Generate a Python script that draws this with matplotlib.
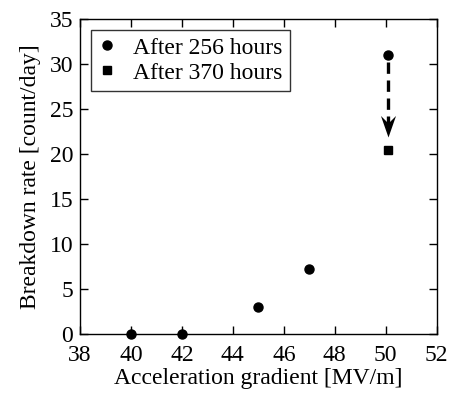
import matplotlib.pyplot as plt
from matplotlib.path import Path

plt.rcParams['font.family'] = ['Liberation Serif', 'DejaVu Serif']

# breakdown rate measured after 256 h
grad_256 = [40.0, 42.0, 45.0, 47.0, 50.1]
rate_256 = [0.0, 0.0, 3.0, 7.15, 31.0]

# breakdown rate at the highest gradient after 370 h
grad_370 = [50.1]
rate_370 = [20.45]

# arrow from the 256 h value down towards the 370 h value
arrow_start = 30.2
arrow_tip = 21.9

xticks = [38, 40, 42, 44, 46, 48, 50, 52]
yticks = [0, 5, 10, 15, 20, 25, 30, 35]

FS = 17

# notched arrowhead, tip at the marker origin
head = Path([(0, 0), (-0.7, 2.0), (0, 1.3), (0.7, 2.0), (0, 0)],
            [Path.MOVETO, Path.LINETO, Path.LINETO, Path.LINETO, Path.CLOSEPOLY])

fig = plt.figure(figsize=(4.51, 3.94), dpi=100)
ax = fig.add_axes([80 / 451, 1 - 333.5 / 394, (436.7 - 80) / 451, (333.5 - 19.3) / 394])

ax.plot(grad_256, rate_256, 'o', color='black', markersize=6.5,
        label='After 256 hours', clip_on=False, zorder=5)
ax.plot(grad_370, rate_370, 's', color='black', markersize=6,
        label='After 370 hours', zorder=5)

x_arr = grad_256[-1]
ax.plot([x_arr, x_arr], [arrow_start, arrow_tip + 1.2], color='black', lw=2.4,
        dashes=(3.4, 2.0), dash_capstyle='butt')
ax.plot([x_arr], [arrow_tip], marker=head, markersize=31, color='black',
        markeredgewidth=0, linestyle='none')

ax.set_xlim(38, 52)
ax.set_ylim(0, 35)
ax.set_xticks(xticks)
ax.set_yticks(yticks)
ax.tick_params(direction='in', top=True, right=True, length=6, width=1,
               labelsize=FS)
ax.tick_params(axis='x', pad=8)
ax.tick_params(axis='y', pad=5)
for s in ax.spines.values():
    s.set_linewidth(1)

ax.set_xlabel('Acceleration gradient [MV/m]', fontsize=FS, labelpad=2)
ax.set_ylabel('Breakdown rate [count/day]', fontsize=FS, labelpad=6)

leg = ax.legend(loc='upper left', fontsize=FS, frameon=True, fancybox=False,
                edgecolor='black', handlelength=0.8, handletextpad=0.7,
                borderpad=0.3, labelspacing=0.15, borderaxespad=0.45,
                bbox_to_anchor=(0.0, 1.0))
leg.get_frame().set_linewidth(1)

fig.savefig('out.png', dpi=100)
